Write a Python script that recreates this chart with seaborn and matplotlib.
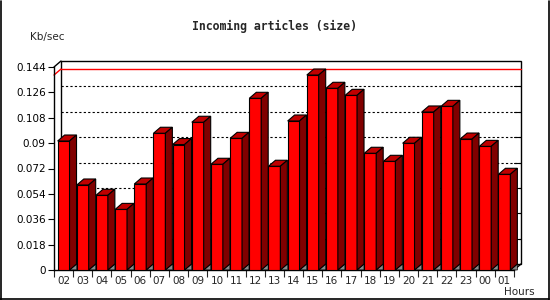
#! /usr/bin/python3
# -*- coding:utf-8 -*-
"""
Incoming articles (size) - 3D looking bar chart with seaborn.
"""
import matplotlib
matplotlib.use('Agg')
import seaborn as sns
import matplotlib.pyplot as plt
import matplotlib.transforms as mtransforms
from matplotlib.patches import Polygon, Rectangle
from matplotlib.lines import Line2D

hours = ['02', '03', '04', '05', '06', '07', '08', '09', '10', '11', '12', '13',
         '14', '15', '16', '17', '18', '19', '20', '21', '22', '23', '00', '01']
kb_per_sec = [0.0915, 0.0603, 0.0530, 0.0430, 0.0610, 0.0970, 0.0890, 0.1048,
              0.0750, 0.0934, 0.1218, 0.0736, 0.1057, 0.1383, 0.1289, 0.1239,
              0.0828, 0.0771, 0.0899, 0.1121, 0.1161, 0.0929, 0.0877, 0.0679]
y_ticks = [0, 0.018, 0.036, 0.054, 0.072, 0.09, 0.108, 0.126, 0.144]
y_tick_labels = ['0', '0.018', '0.036', '0.054', '0.072', '0.09', '0.108', '0.126', '0.144']

sns.set_style('white')
plt.rcParams['font.family'] = ['DejaVu Sans']

W, H, DPI = 550, 300, 100
DX, DY = 7, 6  # depth of the fake 3D, in pixels

fig = plt.figure(figsize=(W / DPI, H / DPI), dpi=DPI)
ax = fig.add_axes([54 / W, 30 / H, 460 / W, 203 / H])
ax.set_facecolor('none')

sns.barplot(x=hours, y=kb_per_sec, order=hours, color='#ff0000', saturation=1,
            width=0.62, edgecolor='black', linewidth=0.8, ax=ax, zorder=3)

ax.set_xlim(-0.5, len(hours) - 0.5)
ax.set_ylim(0, 0.144)

# back plane is the axes box pushed by the depth offset
back = ax.transData + mtransforms.ScaledTranslation(DX / DPI, DY / DPI, fig.dpi_scale_trans)
back_axes = ax.transAxes + mtransforms.ScaledTranslation(DX / DPI, DY / DPI, fig.dpi_scale_trans)

for v in y_ticks[1:-1]:
    ax.plot([-0.5, len(hours) - 0.5], [v, v], transform=back, color='black',
            lw=0.8, linestyle=(0, (2, 2)), zorder=1, clip_on=False)
    ax.plot([0.985, 1.0], [v / 0.144] * 2, transform=back_axes, color='black',
            lw=0.8, zorder=1, clip_on=False)
ax.add_artist(Rectangle((0, 0), 1, 1, transform=back_axes, fill=False,
                        edgecolor='black', lw=1, zorder=1, clip_on=False))

# max line on the back plane
top = max(kb_per_sec)
ax.plot([-0.5, len(hours) - 0.5], [top, top], transform=back, color='red',
        lw=1, zorder=1.5, clip_on=False)
p0 = ax.transData.transform((-0.5, top))
ax.add_artist(Line2D([p0[0], p0[0] + DX], [p0[1], p0[1] + DY], color='red', lw=1,
                     transform=mtransforms.IdentityTransform(), zorder=1.5, clip_on=False))

# connectors between front axes and back plane
ident = mtransforms.IdentityTransform()
for corner in [(0, 1), (1, 0)]:
    c = ax.transAxes.transform(corner)
    ax.add_artist(Line2D([c[0], c[0] + DX], [c[1], c[1] + DY], color='black', lw=1,
                         transform=ident, zorder=2, clip_on=False))

# fake 3D faces for every bar, built from the bar patches
for bar in ax.patches[:len(hours)]:
    x0, w, h = bar.get_x(), bar.get_width(), bar.get_height()
    bl = ax.transData.transform((x0, 0))
    br = ax.transData.transform((x0 + w, 0))
    tr = ax.transData.transform((x0 + w, h))
    tl = ax.transData.transform((x0, h))
    d = (DX, DY)
    top_face = [tl, tr, tr + d, tl + d]
    side_face = [br, tr, tr + d, br + d]
    floor = [br, br + d, (br[0] + DX, br[1])]
    ax.add_artist(Polygon(floor, closed=True, facecolor='#8a8a8a', edgecolor='black',
                          lw=0.5, transform=ident, zorder=2.5, clip_on=False))
    ax.add_artist(Polygon(top_face, closed=True, facecolor='#c00000', edgecolor='black',
                          lw=0.8, transform=ident, zorder=3.5, clip_on=False))
    ax.add_artist(Polygon(side_face, closed=True, facecolor='#800000', edgecolor='black',
                          lw=0.8, transform=ident, zorder=3.5, clip_on=False))

# axes styling
sns.despine(ax=ax, top=True, right=True)
for s in ['left', 'bottom']:
    ax.spines[s].set_color('black')
    ax.spines[s].set_linewidth(1)
ax.set_yticks(y_ticks)
ax.set_yticklabels(y_tick_labels)
ax.set_xticks(range(len(hours)))
ax.set_xticklabels(hours)
ax.set_xticks([i - 0.5 for i in range(len(hours) + 1)], minor=True)
ax.tick_params(axis='y', direction='out', length=4, width=0.8, pad=2,
               labelsize=7.5, left=True, colors='black')
ax.tick_params(axis='x', which='major', length=0, pad=4, labelsize=7.5, bottom=True)
ax.tick_params(axis='x', which='minor', direction='out', length=5, width=0.8, bottom=True)
ax.set_xlabel('')
ax.set_ylabel('')

fig.text(274.5 / W, 1 - 26.7 / H, 'Incoming articles (size)', ha='center', va='center',
         family='DejaVu Sans Mono', weight='bold', fontsize=8.3)
fig.text(47.5 / W, 1 - 36.7 / H, 'Kb/sec', ha='center', va='center', fontsize=7.5)
fig.text(519.5 / W, 1 - 292 / H, 'Hours', ha='center', va='center', fontsize=7.5)

# image border (left, bottom, right)
for xs, ys in [([0.5, 0.5], [0, 299]), ([0, 549], [1.5, 1.5]), ([548.5, 548.5], [0, 299])]:
    fig.add_artist(Line2D([x / W for x in xs], [y / H for y in ys], color='black', lw=1.2,
                          transform=fig.transFigure))

fig.savefig('out.png', dpi=DPI)
